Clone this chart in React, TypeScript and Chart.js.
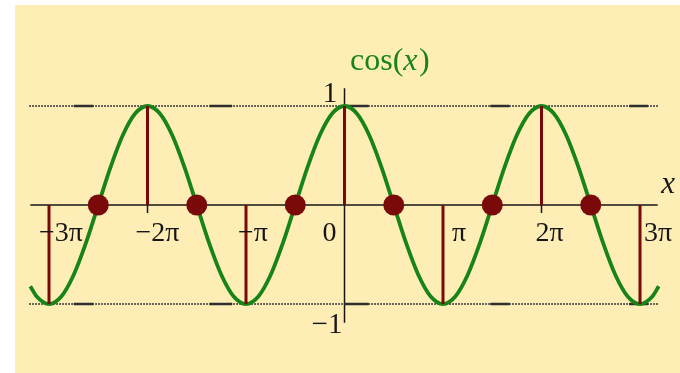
import React, { useEffect, useRef } from 'react';
import { Chart, registerables } from 'chart.js';

Chart.register(...registerables);

// x values are in units of π
const curveX = [
  -3.19, -3.125, -3, -2.875, -2.75, -2.625, -2.5, -2.375, -2.25, -2.125,
  -2, -1.875, -1.75, -1.625, -1.5, -1.375, -1.25, -1.125,
  -1, -0.875, -0.75, -0.625, -0.5, -0.375, -0.25, -0.125,
  0, 0.125, 0.25, 0.375, 0.5, 0.625, 0.75, 0.875,
  1, 1.125, 1.25, 1.375, 1.5, 1.625, 1.75, 1.875,
  2, 2.125, 2.25, 2.375, 2.5, 2.625, 2.75, 2.875, 3, 3.125, 3.19,
];
const curveY = [
  -0.82, -0.924, -1, -0.924, -0.707, -0.383, 0, 0.383, 0.707, 0.924,
  1, 0.924, 0.707, 0.383, 0, -0.383, -0.707, -0.924,
  -1, -0.924, -0.707, -0.383, 0, 0.383, 0.707, 0.924,
  1, 0.924, 0.707, 0.383, 0, -0.383, -0.707, -0.924,
  -1, -0.924, -0.707, -0.383, 0, 0.383, 0.707, 0.924,
  1, 0.924, 0.707, 0.383, 0, -0.383, -0.707, -0.924, -1, -0.924, -0.82,
];
const stemX = [-3, -2, -1, 0, 1, 2, 3];
const stemY = [-1, 1, -1, 1, -1, 1, -1];
const zeroX = [-2.5, -1.5, -0.5, 0.5, 1.5, 2.5];
const tickX = [-3, -2, -1, 0, 1, 2, 3];
const tickLabels = ['−3π', '−2π', '−π', '0', 'π', '2π', '3π'];
const guideLevels = [1, -1];
const guideLabels = ['1', '−1'];
const guideRange = [-3.2, 3.19];
const dashStart = [-2.75, -1.37, 0, 1.48, 2.89];
const dashEnd = [-2.55, -1.14, 0.245, 1.675, 3.08];
const axisXRange = [-3.19, 3.18];
const axisYRange = [-1.19, 1.18];
const minorTickX = [-2, 2];
const curveTitle = ['cos(', 'x', ')'];
const xTitle = 'x';

// layout / style
const X_MIN = -3.4975;
const X_MAX = 3.406;
const Y_MIN = -1.697;
const Y_MAX = 2.0707;
const tickLabelOffsets = [12, 10, 7, -15, 16, 8, 18];
const GREEN = '#188418';
const RED = '#7a0a0a';
const INK = '#161616';
const BG = '#feeeb6';
const SERIF = '"Liberation Serif", "DejaVu Serif", serif';

export default function App() {
  const ref = useRef<HTMLCanvasElement | null>(null);

  useEffect(() => {
    const canvas = ref.current;
    if (!canvas) return;

    const stemData: any[] = [];
    stemX.forEach((x, i) => {
      stemData.push({ x, y: 0 }, { x, y: stemY[i] }, { x, y: null });
    });
    const dashData: any[] = [];
    guideLevels.forEach((lv) => {
      dashStart.forEach((s, i) => {
        dashData.push({ x: s, y: lv }, { x: dashEnd[i], y: lv }, { x: s, y: null });
      });
    });
    const guideData: any[] = [];
    guideLevels.forEach((lv) => {
      guideData.push({ x: guideRange[0], y: lv }, { x: guideRange[1], y: lv }, { x: guideRange[1], y: null });
    });

    const decor = {
      id: 'decor',
      beforeDraw(chart: any) {
        const ctx = chart.ctx;
        ctx.save();
        ctx.fillStyle = '#ffffff';
        ctx.fillRect(0, 0, chart.width, chart.height);
        ctx.fillStyle = BG;
        ctx.fillRect(15, 5, chart.width - 15, chart.height - 5);
        ctx.restore();
      },
      beforeDatasetsDraw(chart: any) {
        const ctx = chart.ctx;
        const xs = chart.scales.x;
        const ys = chart.scales.y;
        const y0 = ys.getPixelForValue(0);
        const x0 = xs.getPixelForValue(0);
        ctx.save();
        ctx.strokeStyle = INK;
        ctx.lineWidth = 1.5;
        ctx.beginPath();
        ctx.moveTo(xs.getPixelForValue(axisXRange[0]), y0);
        ctx.lineTo(xs.getPixelForValue(axisXRange[1]), y0);
        ctx.moveTo(x0, ys.getPixelForValue(axisYRange[0]));
        ctx.lineTo(x0, ys.getPixelForValue(axisYRange[1]));
        minorTickX.forEach((t) => {
          const px = xs.getPixelForValue(t);
          ctx.moveTo(px, y0);
          ctx.lineTo(px, y0 + 8);
        });
        ctx.stroke();
        ctx.restore();
      },
      afterDatasetsDraw(chart: any) {
        const ctx = chart.ctx;
        const xs = chart.scales.x;
        const ys = chart.scales.y;
        const x0 = xs.getPixelForValue(0);
        const y0 = ys.getPixelForValue(0);
        ctx.save();
        ctx.fillStyle = INK;
        ctx.textAlign = 'center';
        ctx.textBaseline = 'alphabetic';
        ctx.font = `28px ${SERIF}`;
        tickX.forEach((t, i) => {
          ctx.fillText(tickLabels[i], xs.getPixelForValue(t) + tickLabelOffsets[i], y0 + 36);
        });
        ctx.font = `29px ${SERIF}`;
        ctx.fillText(guideLabels[0], x0 - 14.5, ys.getPixelForValue(guideLevels[0]) - 4);
        ctx.fillText(guideLabels[1], x0 - 17.5, ys.getPixelForValue(guideLevels[1]) + 29);

        // cos(x) title
        ctx.textAlign = 'left';
        ctx.fillStyle = GREEN;
        let cx = x0 + 5.5;
        const cy = ys.getPixelForValue(1) - 36;
        const fonts = [`32px ${SERIF}`, `italic 32px ${SERIF}`, `32px ${SERIF}`];
        curveTitle.forEach((s, i) => {
          ctx.font = fonts[i];
          ctx.fillText(s, cx, cy);
          cx += ctx.measureText(s).width + (i === 1 ? 1.5 : 0);
        });

        // x axis title
        ctx.fillStyle = INK;
        ctx.font = `italic 31px ${SERIF}`;
        ctx.fillText(xTitle, xs.getPixelForValue(axisXRange[1]) + 3.5, y0 - 12);
        ctx.restore();
      },
    };

    const chart = new Chart(canvas, {
      type: 'line',
      data: {
        datasets: [
          {
            data: zeroX.map((x) => ({ x, y: 0 })),
            showLine: false,
            pointRadius: 10.5,
            pointBackgroundColor: RED,
            pointBorderWidth: 0,
            order: 0,
          } as any,
          {
            data: stemData,
            borderColor: RED,
            borderWidth: 3,
            pointRadius: 0,
            spanGaps: false,
            order: 1,
          },
          {
            data: curveX.map((x, i) => ({ x, y: curveY[i] })),
            borderColor: GREEN,
            borderWidth: 3.8,
            pointRadius: 0,
            cubicInterpolationMode: 'monotone',
            order: 2,
          },
          {
            data: dashData,
            borderColor: '#2e2e2e',
            borderWidth: 2.5,
            pointRadius: 0,
            spanGaps: false,
            order: 3,
          },
          {
            data: guideData,
            borderColor: '#3a3a3a',
            borderWidth: 1.8,
            borderDash: [1.5, 1.5],
            pointRadius: 0,
            spanGaps: false,
            order: 4,
          },
        ],
      },
      options: {
        responsive: false,
        animation: false,
        devicePixelRatio: 1,
        layout: { padding: 0, autoPadding: false },
        events: [],
        scales: {
          x: { type: 'linear', min: X_MIN, max: X_MAX, display: false },
          y: { type: 'linear', min: Y_MIN, max: Y_MAX, display: false },
        },
        plugins: {
          legend: { display: false },
          tooltip: { enabled: false },
        },
      },
      plugins: [decor],
    });
    return () => chart.destroy();
  }, []);

  return (
    <div style={{ position: 'fixed', left: 0, top: 0, width: 680, height: 373, background: '#fff' }}>
      <canvas ref={ref} width={680} height={373} style={{ display: 'block', width: 680, height: 373 }} />
    </div>
  );
}
